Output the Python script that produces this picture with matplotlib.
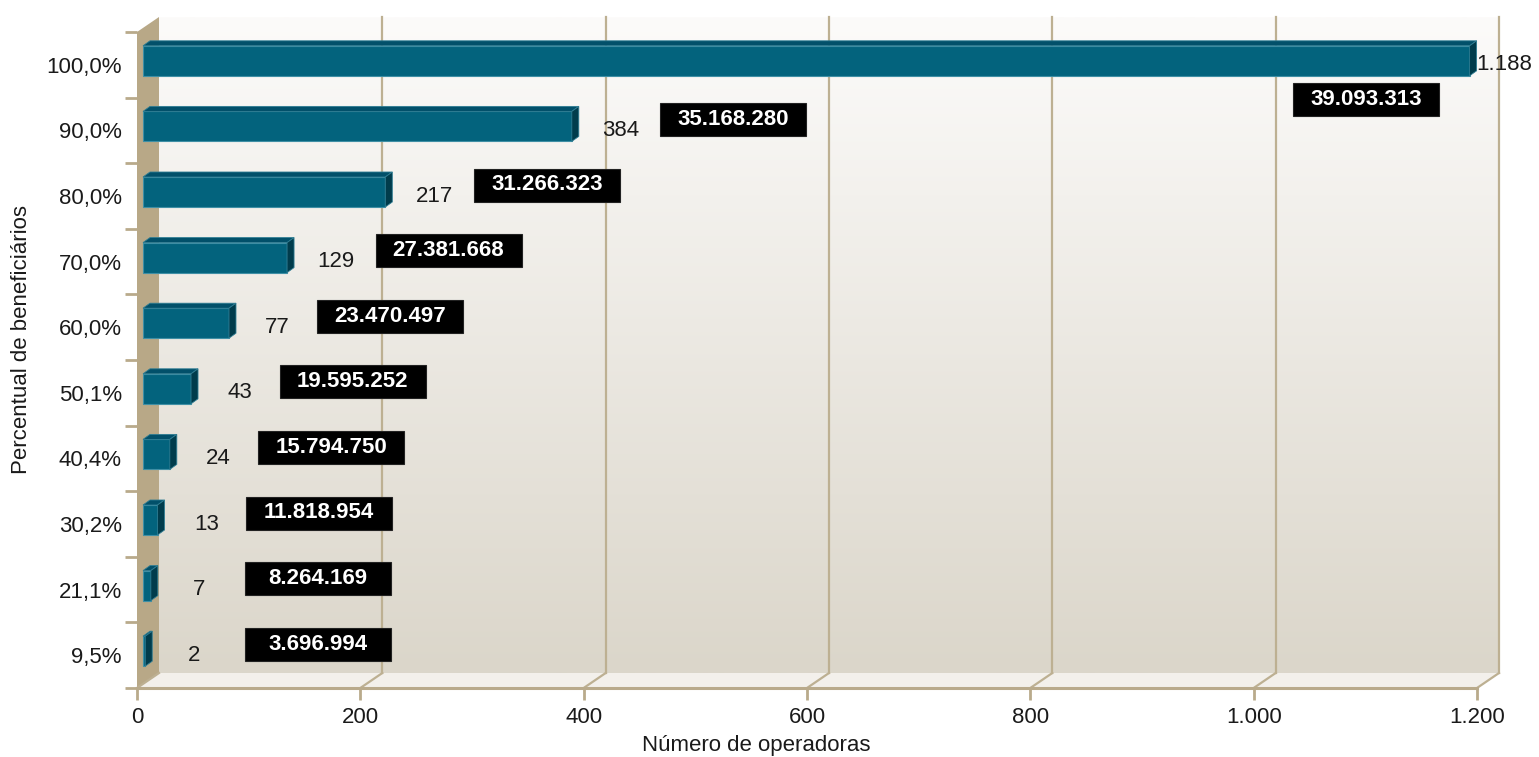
import numpy as np
import matplotlib
matplotlib.use("Agg")
import matplotlib.pyplot as plt
from matplotlib.patches import Polygon, Rectangle
from matplotlib.ticker import FuncFormatter

plt.rcParams['font.family'] = ['Liberation Sans', 'DejaVu Sans']

# Dados: percentual acumulado de beneficiarios x numero de operadoras
faixas = ['9,5%', '21,1%', '30,2%', '40,4%', '50,1%', '60,0%', '70,0%', '80,0%', '90,0%', '100,0%']
operadoras = [2, 7, 13, 24, 43, 77, 129, 217, 384, 1188]
beneficiarios = [3696994, 8264169, 11818954, 15794750, 19595252,
                 23470497, 27381668, 31266323, 35168280, 39093313]

XMAX = 1200
n = len(faixas)

fig = plt.figure(figsize=(15.39, 7.57), dpi=100)
# front plane of the 3D box: pixels x 137..1477, y 32..688
ax = fig.add_axes([137 / 1539, (757 - 688) / 757, 1340 / 1539, 656 / 757])

# pixel -> data unit helpers
ux = XMAX / 1340.0
uy = 1 / 65.6
dx, dy = 22 * ux, 15 * uy          # depth of the walls
y0, y1 = -0.5, n - 0.5

tan = '#b9aa8b'
grid_c = '#bdb092'

# back wall with gradient
grad = np.linspace(0, 1, 256)[:, None]
top = np.array([252, 251, 250]) / 255
bot = np.array([219, 214, 202]) / 255
img = top + (bot - top) * grad[..., None]
im = ax.imshow(img, extent=[dx, XMAX + dx, y0 + dy, y1 + dy], aspect='auto',
               origin='upper', zorder=0)
im.set_clip_on(False)

# floor
ax.add_patch(Polygon([(0, y0), (dx, y0 + dy), (XMAX + dx, y0 + dy), (XMAX, y0)],
                     closed=True, facecolor='#f3f0eb', edgecolor='none',
                     zorder=1, clip_on=False))
# left wall
ax.add_patch(Polygon([(0, y0), (dx, y0 + dy), (dx, y1 + dy), (0, y1)],
                     closed=True, facecolor='#b8a887', edgecolor='none',
                     zorder=1, clip_on=False))

# gridlines on back wall and floor diagonals
xticks = np.arange(0, XMAX + 1, 200)
for xt in xticks:
    if xt > 0:
        ax.plot([xt + dx, xt + dx], [y0 + dy, y1 + dy], color=grid_c, lw=1.6,
                zorder=1, clip_on=False)
    ax.plot([xt, xt + dx], [y0, y0 + dy], color=grid_c, lw=1.6,
            zorder=1, clip_on=False)
ax.plot([0, XMAX], [y0, y0], color=tan, lw=2.2, zorder=2, clip_on=False)

# bars (3D look)
bx0 = 6 * ux
boff = 4 * uy
h = 30 * uy
ddx, ddy = 7 * ux, 5 * uy
front_c = '#03637d'
top_c = '#02506a'
side_c = '#013c4c'
for k, v in enumerate(operadoras):
    yc = k + boff
    yb, yt = yc - h / 2, yc + h / 2
    xa, xb = bx0, bx0 + v
    ax.add_patch(Rectangle((xa, yb), v, h, facecolor=front_c,
                           edgecolor='#3f8fa5', lw=0.8, zorder=4, clip_on=False))
    ax.add_patch(Polygon([(xa, yt), (xa + ddx, yt + ddy), (xb + ddx, yt + ddy), (xb, yt)],
                         closed=True, facecolor=top_c, edgecolor='#2f7d93', lw=0.6,
                         zorder=4, clip_on=False))
    ax.add_patch(Polygon([(xb, yb), (xb + ddx, yb + ddy), (xb + ddx, yt + ddy), (xb, yt)],
                         closed=True, facecolor=side_c, edgecolor='#2f7d93', lw=0.6,
                         zorder=4, clip_on=False))

    # number of operators
    lbl = f"{v:,}".replace(',', '.')
    if v + 49 > XMAX - 20:
        ax.text(xb + ddx, k, lbl, ha='left', va='center', fontsize=16,
                color='#1a1a1a', zorder=6, clip_on=False)
    else:
        ax.text(v + 49, k, lbl, ha='center', va='center', fontsize=16,
                color='#1a1a1a', zorder=6)

    # beneficiaries box
    bw, bh = 146 * ux, 33 * uy
    cx = min(max(v + 150, 162), 1101)
    if cx < v + 60:
        cy = k - 35 * uy
    else:
        cy = k + 11 * uy
    ax.add_patch(Rectangle((cx - bw / 2, cy - bh / 2), bw, bh, facecolor='black',
                           edgecolor='#222222', lw=0.8, zorder=5, clip_on=False))
    ax.text(cx, cy, f"{beneficiarios[k]:,}".replace(',', '.'), ha='center',
            va='center', fontsize=16, fontweight='bold', color='white', zorder=6)

ax.set_xlim(0, XMAX)
ax.set_ylim(y0, y1)
for s in ax.spines.values():
    s.set_visible(False)

ax.set_xticks(xticks)
ax.xaxis.set_major_formatter(FuncFormatter(lambda x, p: f"{int(x):,}".replace(',', '.')))
ax.tick_params(axis='x', length=8.6, width=2, color=tan, pad=5,
               labelsize=16, labelcolor='#1a1a1a')

ax.set_yticks(np.arange(n + 1) - 0.5)
ax.set_yticklabels([])
ax.set_yticks(np.arange(n), minor=True)
ax.set_yticklabels(faixas, minor=True)
ax.tick_params(axis='y', which='major', length=8.6, width=2, color=tan)
ax.tick_params(axis='y', which='minor', length=0, pad=11,
               labelsize=16, labelcolor='#1a1a1a')

fig.text(756 / 1539, 1 - 745 / 757, 'Número de operadoras', ha='center',
         va='center', fontsize=16, color='#1a1a1a')
fig.text(22 / 1539, 1 - 340 / 757, 'Percentual de beneficiários', ha='center',
         va='center', rotation=90, fontsize=16, color='#1a1a1a')

fig.savefig('out.png', dpi=100, facecolor='white')
